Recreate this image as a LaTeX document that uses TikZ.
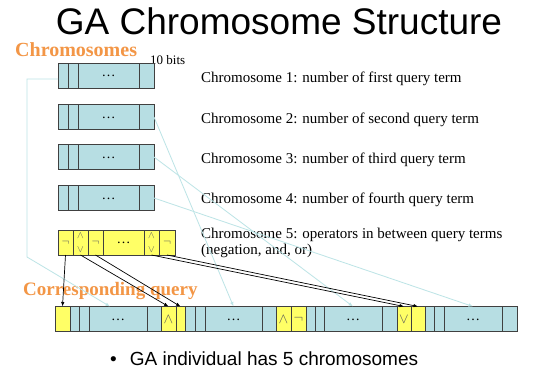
\documentclass[tikz,border=0pt]{standalone}
\usepackage{fontspec}
\setmainfont{Liberation Serif}
\setsansfont{Liberation Sans}
\usepackage{tikz}
\usetikzlibrary{arrows.meta, positioning}
\definecolor{genefill}{RGB}{183,222,227}
\definecolor{opfill}{RGB}{255,255,102}
\definecolor{hintline}{RGB}{188,228,230}
\definecolor{headorange}{RGB}{243,150,70}
\newcommand{\gdots}{\raisebox{-3pt}{\dots}}
\tikzset{
  gene/.style={rectangle, draw=black!75, fill=genefill, line width=0.8pt,
               minimum height=25pt, inner sep=0pt, outer sep=0pt, align=center,
               font=\fontsize{14}{14}\selectfont},
  opgene/.style={gene, fill=opfill, font=\fontsize{13}{10}\selectfont\color{black!65}},
  twin/.style={opgene, font=\fontsize{10}{10}\selectfont\color{black!65}},
  map/.style={-{Latex[length=4.5pt,width=3.5pt]}, draw=black, line width=0.7pt},
  hint/.style={-{Latex[length=4.5pt,width=3.5pt]}, draw=hintline, line width=0.8pt},
  desc/.style={anchor=base west, inner sep=0pt, align=left, font=\fontsize{15}{16}\selectfont},
  head/.style={anchor=base west, inner sep=0pt, text=headorange,
               font=\fontsize{20}{20}\selectfont\bfseries}
}

\begin{document}
\begin{tikzpicture}[x=1pt, y=-1pt]
\path[use as bounding box, fill=white] (0,0) rectangle (550,375);

\node[anchor=base, inner sep=0pt, font=\sffamily\fontsize{37}{37}\selectfont] (title) at (279,34) {GA Chromosome Structure};
\node[head] (lchrom) at (15,56) {Chromosomes};
\node[anchor=base west, inner sep=0pt, font=\fontsize{13}{13}\selectfont] (bits) at (150,64) {10 bits};

% four term chromosomes
\foreach \i/\y in {1/75.5,2/117,3/157,4/198}{
  \node[gene, minimum width=10pt, anchor=west] (g\i-a) at (58,\y) {};
  \node[gene, minimum width=10pt, right=0pt of g\i-a] (g\i-b) {};
  \node[gene, minimum width=61pt, right=0pt of g\i-b] (g\i-c) {\gdots};
  \node[gene, minimum width=15pt, right=0pt of g\i-c] (g\i-d) {};
}

% operator chromosome
\node[opgene, minimum width=15pt, anchor=west] (o1) at (58,242.5) {$\neg$};
\node[twin, minimum width=15pt, right=0pt of o1] (o2) {$\wedge$\\[4pt]$\vee$};
\node[opgene, minimum width=15pt, right=0pt of o2] (o3) {$\neg$};
\node[opgene, minimum width=41pt, right=0pt of o3, font=\fontsize{14}{14}\selectfont] (o4) {\gdots};
\node[twin, minimum width=15pt, right=0pt of o4] (o5) {$\wedge$\\[4pt]$\vee$};
\node[opgene, minimum width=16pt, right=0pt of o5] (o6) {$\neg$};

\node[desc] (d1) at (201,82) {Chromosome 1: number of first query term};
\node[desc] (d2) at (201,123) {Chromosome 2: number of second query term};
\node[desc] (d3) at (201,163) {Chromosome 3: number of third query term};
\node[desc] (d4) at (201,203) {Chromosome 4: number of fourth query term};
\node[desc, anchor=north west] (d5) at (201,228) {Chromosome 5: operators in between query terms\\(negation, and, or)};

\node[head, font=\fontsize{19}{19}\selectfont\bfseries] (lquery) at (23,295) {Corresponding query};

% the decoded query
\foreach \x/\w/\c/\t [count=\n] in {
    55/15/opfill/{}, 70/9/genefill/{}, 79/10/genefill/{}, 89/58/genefill/\gdots, 147/14/genefill/{},
    161/15/opfill/{\color{black!65}$\wedge$}, 176/9/opfill/{},
    185/10/genefill/{}, 195/10/genefill/{}, 205/57/genefill/\gdots, 262/14/genefill/{},
    276/15/opfill/{\color{black!65}$\wedge$}, 291/15/opfill/{\color{black!65}$\neg$},
    306/9/genefill/{}, 315/9/genefill/{}, 324/58/genefill/\gdots, 382/15/genefill/{},
    397/14/opfill/{\color{black!65}$\vee$}, 411/14/opfill/{},
    425/9/genefill/{}, 434/10/genefill/{}, 444/58/genefill/\gdots, 502/15/genefill/{}}
  \node[gene, fill=\c, minimum width=\w pt, anchor=west] (q\n) at (\x,319) {\t};

\node[anchor=base west, inner sep=0pt, font=\sffamily\fontsize{19}{19}\selectfont] (note) at (110,365)
  {\textbullet\hspace{13pt}GA individual has 5 chromosomes};

\draw[hint] ([yshift=-3.5pt]g1-a.west) -- ++(-31,0) -- ++(0,178) -- ([xshift=-8pt]q4.north);
\draw[hint] (g2-d.east) -- (q10.north);
\draw[hint] (g3-d.east) -- (q16.north);
\draw[hint] (g4-d.east) -- (q22.north);

\draw[map] (o1.south) -- (q1.north);
\draw[map] (o2.south) -- (q6.north);
\draw[map] (o3.south) -- (q7.north);
\draw[map] (o5.south) -- (q18.north);
\draw[map] (o6.south) -- (q19.north);
\end{tikzpicture}
\end{document}
